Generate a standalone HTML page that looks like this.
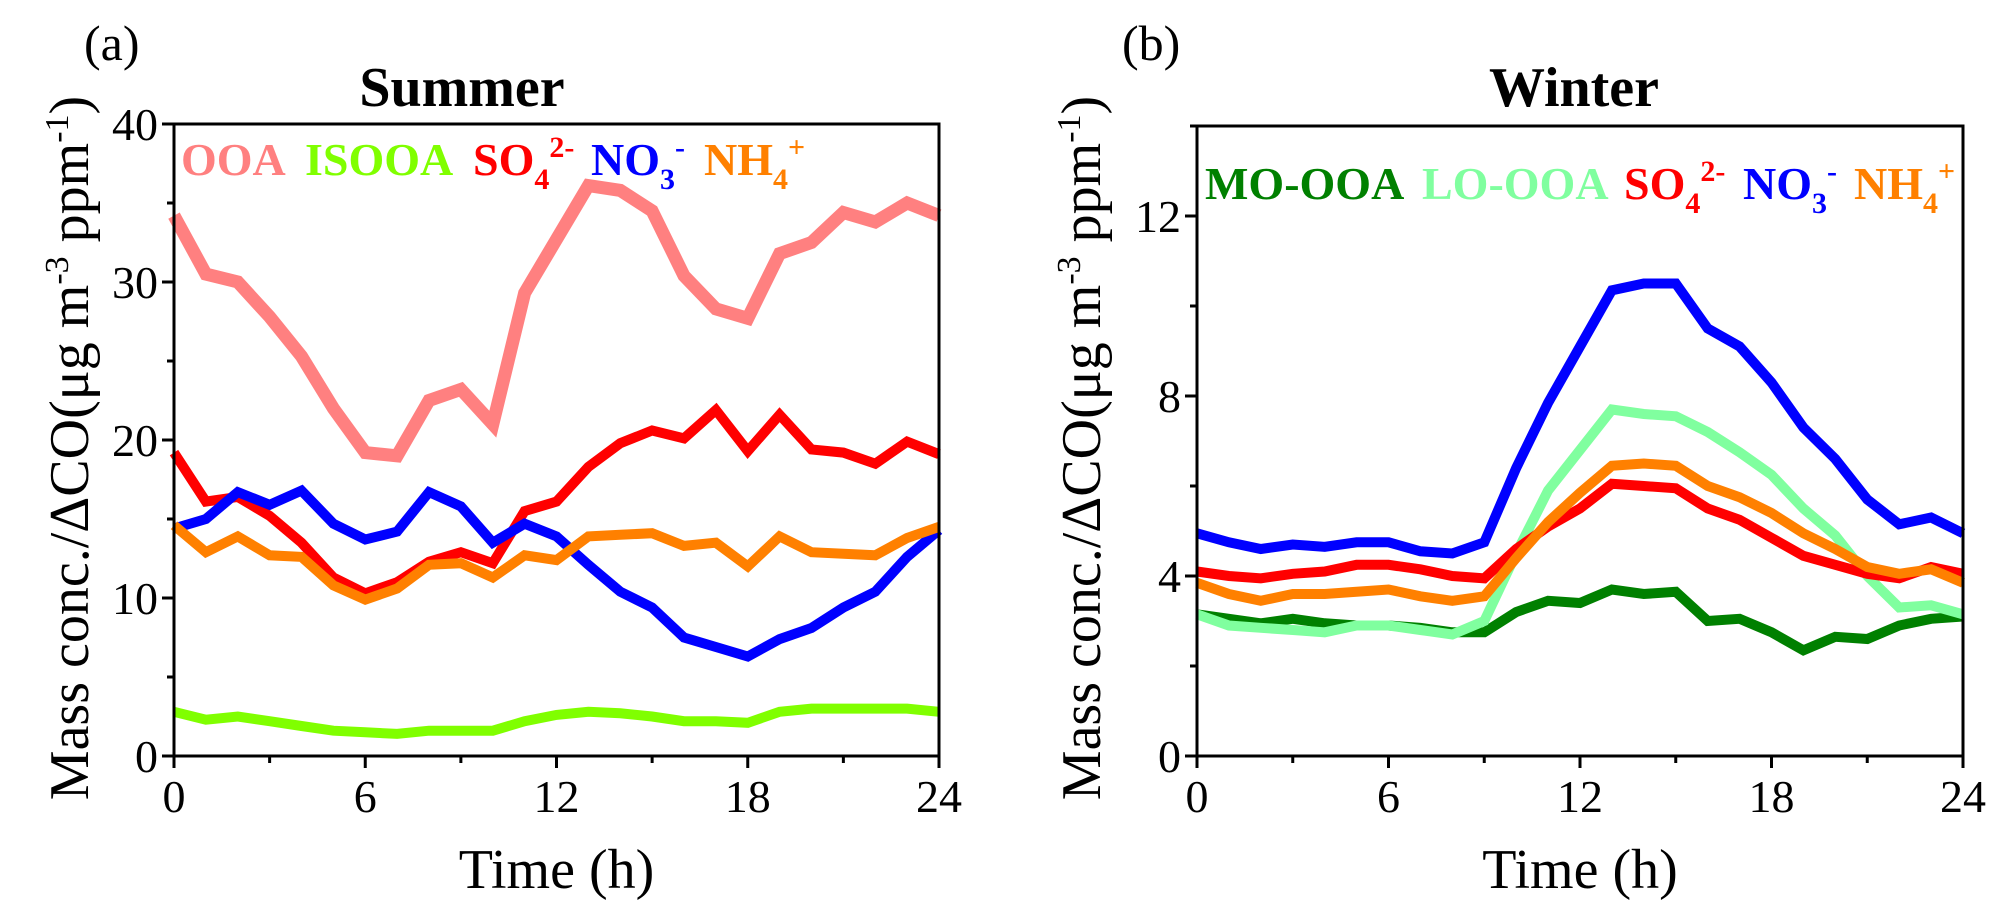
<!DOCTYPE html>
<html><head><meta charset="utf-8"><style>
body{margin:0;background:#fff;}
#wrap{position:relative;width:2002px;height:912px;overflow:hidden;}
#chart{position:absolute;left:0;top:0;}
.serif, svg text{font-family:"Liberation Serif","Times New Roman","DejaVu Serif",serif;}
.leg{position:absolute;font-family:"Liberation Serif","Times New Roman",serif;font-weight:bold;font-size:46px;line-height:46px;white-space:nowrap;}
.leg sub,.leg sup{font-size:30px;line-height:0;}
.leg sub{position:relative;top:4px;vertical-align:-10px;}
.leg sup{vertical-align:18px;}
.ylab{position:absolute;font-family:"Liberation Serif","Times New Roman",serif;font-size:56px;line-height:56px;white-space:nowrap;transform:translate(-50%,-50%) rotate(-90deg);}
.ylab sup{font-size:34px;vertical-align:20px;line-height:0;}
</style></head><body>
<div id="wrap">
<svg id="chart" width="2002" height="912" viewBox="0 0 2002 912" xmlns="http://www.w3.org/2000/svg"></svg>
</div>
<script>
const hours=[0,1,2,3,4,5,6,7,8,9,10,11,12,13,14,15,16,17,18,19,20,21,22,23,24];
const xTicks=[0,6,12,18,24];
const summerYTicks=[0,10,20,30,40];
const winterYTicks=[0,4,8,12];
const sOOA=[34.2,30.5,30,27.8,25.3,22,19.2,19,22.5,23.2,21,29.3,32.7,36.1,35.8,34.5,30.4,28.3,27.7,31.8,32.5,34.4,33.8,35,34.2];
const sISOOA=[2.8,2.3,2.5,2.2,1.9,1.6,1.5,1.4,1.6,1.6,1.6,2.2,2.6,2.8,2.7,2.5,2.2,2.2,2.1,2.8,3,3,3,3,2.8];
const sSO4=[19.2,16.1,16.4,15.2,13.5,11.3,10.3,11,12.3,12.9,12.2,15.5,16.1,18.3,19.8,20.6,20.1,21.9,19.3,21.6,19.4,19.2,18.5,19.9,19.1];
const sNO3=[14.4,15,16.7,15.9,16.8,14.7,13.7,14.2,16.7,15.8,13.5,14.7,13.9,12.1,10.4,9.4,7.5,6.9,6.3,7.4,8.1,9.4,10.4,12.6,14.3];
const sNH4=[14.6,12.9,13.9,12.7,12.6,10.8,9.9,10.6,12.1,12.2,11.3,12.7,12.4,13.9,14,14.1,13.3,13.5,12,13.9,12.9,12.8,12.7,13.8,14.5];
const wNO3=[4.95,4.75,4.6,4.7,4.65,4.75,4.75,4.55,4.5,4.75,6.4,7.85,9.1,10.35,10.5,10.5,9.5,9.1,8.3,7.3,6.6,5.7,5.15,5.3,4.95];
const wLOOOA=[3.15,2.9,2.85,2.8,2.75,2.9,2.9,2.8,2.7,3,4.5,5.9,6.8,7.7,7.6,7.55,7.2,6.75,6.25,5.5,4.9,4.0,3.3,3.35,3.15];
const wSO4=[4.1,4.0,3.95,4.05,4.1,4.25,4.25,4.15,4.0,3.95,4.6,5.1,5.5,6.05,6.0,5.95,5.5,5.25,4.85,4.45,4.25,4.05,3.95,4.2,4.05];
const wNH4=[3.85,3.6,3.45,3.6,3.6,3.65,3.7,3.55,3.45,3.55,4.4,5.2,5.85,6.45,6.5,6.45,6.0,5.75,5.4,4.95,4.6,4.2,4.05,4.15,3.85];
const wMOOOA=[3.15,3.05,2.95,3.05,2.95,2.9,2.9,2.85,2.75,2.75,3.2,3.45,3.4,3.7,3.6,3.65,3.0,3.05,2.75,2.35,2.65,2.6,2.9,3.05,3.1];

const NS="http://www.w3.org/2000/svg";
const FONT="Liberation Serif, Times New Roman, DejaVu Serif, serif";
const svg=document.getElementById('chart');
const wrap=document.getElementById('wrap');
function mk(tag,attrs,parent){const e=document.createElementNS(NS,tag);for(const k in attrs)e.setAttribute(k,attrs[k]);if(tag==='text')e.setAttribute('font-family',FONT);(parent||svg).appendChild(e);return e;}
function html(tag,cls,parent){const e=document.createElement(tag);if(cls)e.className=cls;(parent||wrap).appendChild(e);return e;}

function panel(p){
  const g=mk('g',{});
  
  
  const xs=h=>p.x0+(h-0)/24*(p.x1-p.x0);
  const ys=v=>p.y0-(v/p.ymax)*(p.y0-p.y1);
  p.series.forEach(s=>{
    const d=hours.map((h,i)=>(i?'L':'M')+xs(h).toFixed(1)+','+ys(s.vals[i]).toFixed(1)).join(' ');
    const path=mk('path',{d:d,fill:'none',stroke:s.color,'stroke-width':s.w||10,'stroke-linejoin':'miter'},g);
    
    
  });
  const fr=mk('rect',{x:p.x0,y:p.y1,width:p.x1-p.x0,height:p.y0-p.y1,fill:'none',stroke:'#000','stroke-width':3},g);
  
  
  for(let h=0;h<=24;h+=3){
    const major=h%6===0;
    mk('line',{x1:xs(h),x2:xs(h),y1:p.y0,y2:p.y0+(major?12:7),stroke:'#000','stroke-width':3},g);
  }
  xTicks.forEach(h=>{
    const t=mk('text',{x:xs(h),y:812,'font-size':46,'text-anchor':'middle'},g);
    t.textContent=h;
    
    
  });
  const step=p.yt[1]-p.yt[0];
  for(let v=0;v<=p.ymax+1e-9;v+=step/2){
    const major=Math.abs(v/step-Math.round(v/step))<1e-6;
    mk('line',{x1:p.x0,x2:p.x0-(major?12:7),y1:ys(v),y2:ys(v),stroke:'#000','stroke-width':3},g);
  }
  p.yt.forEach(v=>{
    const t=mk('text',{x:p.x0-16,y:ys(v)+16,'font-size':46,'text-anchor':'end'},g);
    t.textContent=v;
    
    
  });
  const ti=mk('text',{x:p.titleX,y:106,'font-size':56,'font-weight':'bold','text-anchor':'middle'},g);
  ti.textContent=p.title;
  
  
  const lab=mk('text',{x:p.labX,y:60,'font-size':50},g);
  lab.textContent=p.lab;
  
  
  const xl=mk('text',{x:(p.x0+p.x1)/2,y:888,'font-size':56,'text-anchor':'middle'},g);
  xl.textContent='Time (h)';
  
  
  const yl=html('div','ylab');
  yl.style.left=p.ylX+'px';yl.style.top='448px';
  yl.innerHTML='Mass conc./ΔCO(μg m<sup>-3</sup> ppm<sup>-1</sup>)';
  
  
  p.legend.forEach(l=>{
    const t=html('div','leg');
    t.style.left=l.x+'px';t.style.top=(p.legY-39)+'px';t.style.color=l.color;
    t.innerHTML=l.sub?l.text+'<sub>'+l.sub+'</sub><sup>'+l.sup+'</sup>':l.text;
    
    
  });
}
panel({id:'summer',x0:174,x1:939,y0:756,y1:124,ymax:40,yt:summerYTicks,title:'Summer',titleX:462,lab:'(a)',labX:84,ylX:70,legY:176,
  series:[{name:'ooa',color:'#ff8080',vals:sOOA,w:13},{name:'isooa',color:'#80ff00',vals:sISOOA},{name:'so4',color:'#ff0000',vals:sSO4},{name:'no3',color:'#0000ff',vals:sNO3},{name:'nh4',color:'#ff8000',vals:sNH4}],
  legend:[{name:'ooa',x:181,color:'#ff8080',text:'OOA'},{name:'isooa',x:305,color:'#80ff00',text:'ISOOA'},{name:'so4',x:473,color:'#ff0000',text:'SO',sub:'4',sup:'2-'},{name:'no3',x:591,color:'#0000ff',text:'NO',sub:'3',sup:'-'},{name:'nh4',x:704,color:'#ff8000',text:'NH',sub:'4',sup:'+'}]});
panel({id:'winter',x0:1197,x1:1963,y0:756,y1:126,ymax:14,yt:winterYTicks,title:'Winter',titleX:1574,lab:'(b)',labX:1122,ylX:1082,legY:200,
  series:[{name:'mo-ooa',color:'#008000',vals:wMOOOA},{name:'lo-ooa',color:'#80ff9f',vals:wLOOOA},{name:'so4',color:'#ff0000',vals:wSO4},{name:'nh4',color:'#ff8000',vals:wNH4},{name:'no3',color:'#0000ff',vals:wNO3}],
  legend:[{name:'mo-ooa',x:1205,color:'#008000',text:'MO-OOA'},{name:'lo-ooa',x:1422,color:'#80ff9f',text:'LO-OOA'},{name:'w-so4',x:1624,color:'#ff0000',text:'SO',sub:'4',sup:'2-'},{name:'w-no3',x:1743,color:'#0000ff',text:'NO',sub:'3',sup:'-'},{name:'w-nh4',x:1854,color:'#ff8000',text:'NH',sub:'4',sup:'+'}]});
</script>
</body></html>
